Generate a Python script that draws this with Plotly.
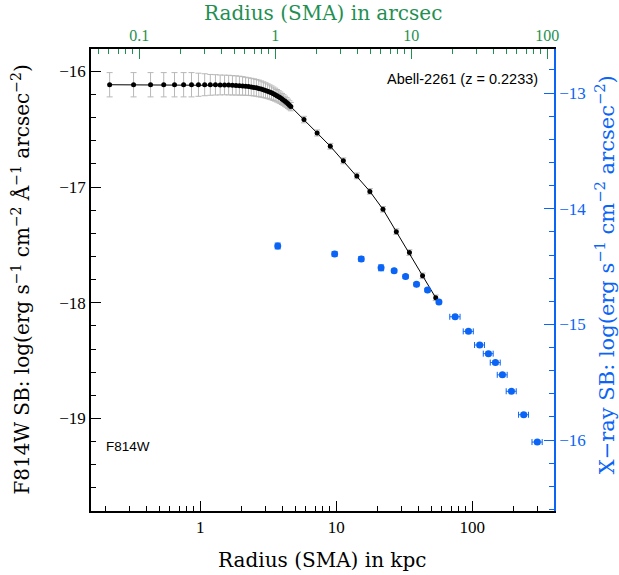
import math
import plotly.graph_objects as go

# ---------------- data ----------------
# F814W surface brightness profile (radius in kpc, log SB, error)
opt_radius_kpc = [0.216, 0.324, 0.432, 0.540, 0.648, 0.756, 0.864, 0.972, 1.080,
                  1.188, 1.296, 1.404, 1.512, 1.620, 1.728, 1.836, 1.944, 2.052,
                  2.160, 2.268, 2.376, 2.484, 2.592, 2.700, 2.808, 2.916, 3.024,
                  3.132, 3.240, 3.348, 3.456, 3.564, 3.672, 3.780, 3.888, 3.996,
                  4.104, 4.212, 4.320, 4.428, 4.536, 4.644,
                  5.80, 7.25, 9.06, 11.3, 14.2, 17.7, 22.1, 27.7, 34.6, 43.2, 54.0]
opt_sb = [-16.115, -16.115, -16.115, -16.115, -16.115, -16.115, -16.115, -16.115, -16.115,
          -16.116, -16.116, -16.117, -16.117, -16.118, -16.120, -16.121, -16.123, -16.125,
          -16.128, -16.131, -16.134, -16.138, -16.142, -16.147, -16.152, -16.158, -16.164,
          -16.171, -16.178, -16.185, -16.193, -16.201, -16.210, -16.219, -16.228, -16.238,
          -16.248, -16.258, -16.269, -16.280, -16.292, -16.304,
          -16.416, -16.532, -16.647, -16.773, -16.903, -17.037, -17.192, -17.385, -17.566,
          -17.767, -17.957]
opt_err = [0.105, 0.105, 0.105, 0.105, 0.105, 0.105, 0.105, 0.100, 0.095,
           0.090, 0.088, 0.086, 0.085, 0.085, 0.084, 0.083, 0.082, 0.080,
           0.078, 0.076, 0.075, 0.074, 0.073, 0.072, 0.070, 0.068, 0.066,
           0.064, 0.062, 0.060, 0.058, 0.056, 0.054, 0.052, 0.050, 0.048,
           0.046, 0.044, 0.042, 0.040, 0.038, 0.036,
           0.028, 0.026, 0.025, 0.025, 0.025, 0.024, 0.024, 0.024, 0.024, 0.024, 0.024]

# X-ray surface brightness profile
xray_radius_kpc = [3.72, 9.75, 15.3, 21.4, 26.7, 32.4, 39.0, 47.0, 57.0,
                   75.0, 94.0, 113.7, 131.8, 148.4, 167.0, 194.5, 239.5, 301.5]
xray_sb = [-14.322, -14.391, -14.434, -14.511, -14.537, -14.586, -14.652, -14.703, -14.806,
           -14.934, -15.060, -15.178, -15.253, -15.330, -15.436, -15.578, -15.781, -16.017]
xray_rerr = [0.0, 0.0, 0.0, 0.0, 0.0, 0.0, 0.0, 0.0, 0.0,
             6.5, 8.0, 9.5, 11.0, 12.5, 14.0, 16.5, 20.0, 26.0]
xray_sberr = [0.025, 0.02, 0.02, 0.025, 0.015, 0.015, 0.015, 0.015, 0.015,
              0.015, 0.015, 0.015, 0.015, 0.015, 0.015, 0.015, 0.015, 0.015]

kpc_per_arcsec = 3.56
x_range_log = [-0.8025, 2.602]          # bottom axis (kpc), log10
y_left_range = [-19.80, -15.806]
y_offset = 3.187                         # right axis = left axis + offset
y_right_range = [y_left_range[0] + y_offset, y_left_range[1] + y_offset]

GREEN = "#1f8f52"
BLUE = "#0a64f5"
SERIF = "DejaVu Serif"
TICKSERIF = "Liberation Serif"
SANS = "Liberation Sans"
TITLE_SIZE = 20

top_range = [x_range_log[0] - math.log10(kpc_per_arcsec),
             x_range_log[1] - math.log10(kpc_per_arcsec)]

fig = go.Figure()

# empty trace to attach the top (arcsec) axis
fig.add_trace(go.Scatter(x=[], y=[], xaxis="x2", yaxis="y", showlegend=False,
                         hoverinfo="skip"))

fig.add_trace(go.Scatter(
    x=opt_radius_kpc, y=opt_sb, mode="lines+markers",
    line=dict(color="black", width=1),
    marker=dict(color="black", size=5),
    error_y=dict(type="data", array=opt_err, color="#b8b8b8", thickness=1, width=3),
    xaxis="x", yaxis="y", showlegend=False))

fig.add_trace(go.Scatter(
    x=xray_radius_kpc, y=xray_sb, mode="markers",
    marker=dict(color=BLUE, size=7),
    error_x=dict(type="data", array=xray_rerr, color=BLUE, thickness=1, width=3),
    error_y=dict(type="data", array=xray_sberr, color=BLUE, thickness=1, width=3),
    xaxis="x", yaxis="y2", showlegend=False))

fig.update_layout(
    width=619, height=575,
    margin=dict(l=91, r=64.5, t=48.5, b=64.3, autoexpand=False),
    paper_bgcolor="white", plot_bgcolor="white",
    showlegend=False,
    xaxis=dict(
        type="log", range=x_range_log, dtick=1, automargin=False,
        showline=True, linecolor="black", linewidth=1.5, mirror=False,
        ticks="inside", ticklen=10, tickcolor="black", tickwidth=1,
        minor=dict(ticks="inside", ticklen=5, tickcolor="black", dtick="D1", showgrid=False),
        showgrid=False, zeroline=False,
        tickfont=dict(family=TICKSERIF, size=17, color="black"),
    ),
    xaxis2=dict(
        type="log", range=top_range, dtick=1, overlaying="x", side="top", automargin=False,
        showline=True, linecolor="black", linewidth=1.5,
        ticks="inside", ticklen=10, tickcolor=GREEN, tickwidth=1,
        minor=dict(ticks="inside", ticklen=5, tickcolor=GREEN, dtick="D1", showgrid=False),
        showgrid=False, zeroline=False,
        tickfont=dict(family=TICKSERIF, size=16, color=GREEN),
    ),
    yaxis=dict(
        range=y_left_range, dtick=1, tick0=-16, automargin=False,
        showline=True, linecolor="black", linewidth=1.5,
        ticks="inside", ticklen=10, tickcolor="black", tickwidth=1,
        minor=dict(ticks="inside", ticklen=5, tickcolor="black", dtick=0.2, tick0=-16, showgrid=False),
        showgrid=False, zeroline=False,
        tickfont=dict(family=TICKSERIF, size=17, color="black"),
    ),
    yaxis2=dict(
        range=y_right_range, dtick=1, tick0=-13, overlaying="y", side="right", automargin=False,
        showline=True, linecolor=BLUE, linewidth=1.5,
        ticks="inside", ticklen=10, tickcolor=BLUE, tickwidth=1,
        minor=dict(ticks="inside", ticklen=5, tickcolor=BLUE, dtick=0.2, tick0=-13, showgrid=False),
        showgrid=False, zeroline=False,
        tickfont=dict(family=TICKSERIF, size=17, color=BLUE),
    ),
    annotations=[
        dict(text="Radius (SMA) in kpc", xref="paper", yref="paper",
             x=0.5, y=-0.106, xanchor="center", yanchor="middle", showarrow=False,
             font=dict(family=SERIF, size=TITLE_SIZE, color="black")),
        dict(text="Radius (SMA) in arcsec", xref="paper", yref="paper",
             x=0.5, y=1.079, xanchor="center", yanchor="middle", showarrow=False,
             font=dict(family=SERIF, size=TITLE_SIZE, color=GREEN)),
        dict(text="F814W SB: log(erg s<sup>−1</sup> cm<sup>−2</sup> Å<sup>−1</sup> arcsec<sup>−2</sup>)",
             xref="paper", yref="paper", x=-0.152, y=0.5, xanchor="center", yanchor="middle",
             textangle=-90, showarrow=False,
             font=dict(family=SERIF, size=TITLE_SIZE, color="black")),
        dict(text="X−ray SB: log(erg s<sup>−1</sup> cm<sup>−2</sup> arcsec<sup>−2</sup>)",
             xref="paper", yref="paper", x=1.112, y=0.512, xanchor="center", yanchor="middle",
             textangle=-90, showarrow=False,
             font=dict(family=SERIF, size=21, color=BLUE)),
        dict(text="Abell-2261 (z = 0.2233)", xref="paper", yref="paper",
             x=0.97, y=0.935, xanchor="right", yanchor="middle", showarrow=False,
             font=dict(family=SANS, size=14.5, color="black")),
        dict(text="F814W", xref="paper", yref="paper",
             x=0.028, y=0.14, xanchor="left", yanchor="middle", showarrow=False,
             font=dict(family=SANS, size=13.5, color="black")),
    ],
)

fig.write_html("out.html", post_script="document.body.style.margin='0';",
               config={"displayModeBar": False})
